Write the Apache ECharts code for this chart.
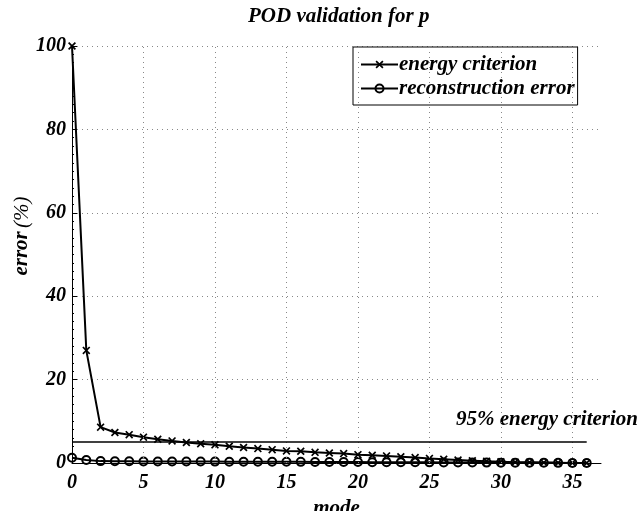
<!DOCTYPE html>
<html><head><meta charset="utf-8">
<script src="https://cdn.jsdelivr.net/npm/echarts@6/dist/echarts.min.js"></script>
<style>html,body{margin:0;padding:0;background:#fff}#c{width:641px;height:511px}</style>
</head><body><div id="c"></div>
<script>
const modes = [0,1,2,3,4,5,6,7,8,9,10,11,12,13,14,15,16,17,18,19,20,21,22,23,24,25,26,27,28,29,30,31,32,33,34,35,36];
const energyCriterion = [100, 27.0, 8.6, 7.3, 6.8, 6.2, 5.7, 5.3, 4.9, 4.6, 4.35, 4.0, 3.7, 3.45, 3.2, 2.9, 2.8, 2.55, 2.4, 2.25, 2.0, 1.85, 1.7, 1.5, 1.3, 1.1, 0.9, 0.7, 0.55, 0.4, 0.3, 0.2, 0.15, 0.1, 0.05, 0.02, 0];
const reconstructionError = [1.25, 0.7, 0.45, 0.4, 0.4, 0.38, 0.37, 0.36, 0.35, 0.34, 0.33, 0.32, 0.31, 0.3, 0.29, 0.28, 0.27, 0.26, 0.25, 0.24, 0.22, 0.2, 0.19, 0.18, 0.16, 0.15, 0.13, 0.12, 0.1, 0.09, 0.08, 0.06, 0.05, 0.04, 0.03, 0.02, 0];
const xGridTicks = [5, 10, 15, 20, 25, 30, 35];
const thresholdValue = 5;
const thresholdStart = 0, thresholdEnd = 36;

const FF = '"Liberation Serif", "Times New Roman", serif';
const txt = (size) => ({fontFamily: FF, fontStyle: 'italic', fontWeight: 'bold', fontSize: size, color: '#000'});
const X_SYMBOL = 'path://M0,1.5L1.5,0L5,3.5L8.5,0L10,1.5L6.5,5L10,8.5L8.5,10L5,6.5L1.5,10L0,8.5L3.5,5Z';

const chart = echarts.init(document.getElementById('c'), null, {renderer: 'canvas'});
chart.setOption({
  animation: false,
  backgroundColor: '#fff',
  title: {text: 'POD validation for p', left: 243, top: 1, textStyle: txt(21)},
  grid: {left: 72, right: 40, top: 46, bottom: 48, containLabel: false, outerBoundsMode: 'none'},
  legend: {
    orient: 'vertical', left: 353, top: 47,
    backgroundColor: '#fff', borderColor: '#000', borderWidth: 1,
    padding: [7, 3, 6, 7], itemGap: 3, itemWidth: 37, itemHeight: 10,
    textStyle: Object.assign(txt(21), {padding: [0, 0, 0, -4]})
  },
  xAxis: {
    type: 'value', min: 0, max: 37, interval: 5,
    name: 'mode', nameLocation: 'middle', nameGap: 31, nameTextStyle: txt(21),
    axisLine: {show: true, onZero: false, lineStyle: {color: '#000', width: 1}},
    axisTick: {show: false},
    axisLabel: Object.assign(txt(20), {margin: 10, showMaxLabel: false}),
    splitLine: {show: false}
  },
  yAxis: {
    type: 'value', min: 0, max: 100, interval: 20,
    axisLine: {show: true, lineStyle: {color: '#000', width: 1}},
    axisTick: {show: true, inside: true, length: 5, lineStyle: {color: '#000'}},
    minorTick: {show: true, splitNumber: 10, length: 2, lineStyle: {color: '#000'}},
    axisLabel: Object.assign(txt(20), {margin: 6}),
    splitLine: {show: true, lineStyle: {color: '#888', type: [1, 4], width: 1}}
  },
  graphic: [
    {
      type: 'text', left: 456, top: 409,
      style: {text: '95% energy criterion', font: 'italic bold 21px ' + FF, fill: '#000'}
    },
    {
      type: 'text', x: 22, y: 236, rotation: Math.PI / 2,
      style: {
        text: '{b|error} {n|(%)}', align: 'center', verticalAlign: 'middle',
        rich: {
          b: {font: 'italic bold 21px ' + FF, fill: '#000'},
          n: {font: 'italic 21px ' + FF, fill: '#000'}
        }
      }
    }
  ],
  series: [
    {
      name: 'energy criterion', type: 'line',
      data: modes.map((m, i) => [m, energyCriterion[i]]),
      symbol: X_SYMBOL, symbolSize: 8, showAllSymbol: true,
      lineStyle: {color: '#000', width: 2},
      itemStyle: {color: '#000'},
      z: 3,
      markLine: {
        silent: true, symbol: 'none', animation: false,
        label: {show: false},
        lineStyle: {color: '#888', type: [1, 4], width: 1},
        data: xGridTicks.map(v => ({xAxis: v}))
      }
    },
    {
      name: 'reconstruction error', type: 'line',
      data: modes.map((m, i) => [m, reconstructionError[i]]),
      symbol: 'circle', symbolSize: 8, showAllSymbol: true,
      lineStyle: {color: '#000', width: 2},
      itemStyle: {color: 'rgba(0,0,0,0)', borderColor: '#000', borderWidth: 2},
      z: 4,
      markLine: {
        silent: true, symbol: 'none', animation: false,
        label: {show: false},
        lineStyle: {color: '#000', type: 'solid', width: 1.5},
        data: [[{coord: [thresholdStart, thresholdValue]}, {coord: [thresholdEnd, thresholdValue]}]]
      }
    }
  ]
});
</script>
</body></html>
